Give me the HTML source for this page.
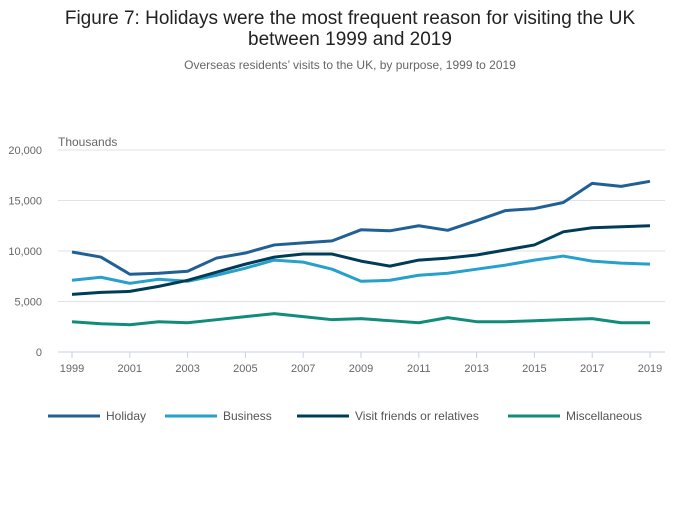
<!DOCTYPE html>
<html><head><meta charset="utf-8"><style>
body{margin:0;background:#fff;font-family:"Liberation Sans",sans-serif;}
</style></head><body>
<svg id="chart" width="700" height="502" xmlns="http://www.w3.org/2000/svg">
<text x="350" y="24" text-anchor="middle" font-size="19" fill="#222">Figure 7: Holidays were the most frequent reason for visiting the UK</text>
<text x="350" y="45" text-anchor="middle" font-size="19" fill="#222">between 1999 and 2019</text>
<text x="350" y="69" text-anchor="middle" font-size="12" fill="#666">Overseas residents’ visits to the UK, by purpose, 1999 to 2019</text>
<text x="58" y="146" font-size="12" fill="#666">Thousands</text>
<g id="grid"></g><g id="lines"></g><g id="legend"></g>
</svg>
<script>
const years=[1999,2000,2001,2002,2003,2004,2005,2006,2007,2008,2009,2010,2011,2012,2013,2014,2015,2016,2017,2018,2019];
const holiday=[9900,9400,7700,7800,8000,9300,9800,10600,10800,11000,12100,12000,12500,12050,13000,14000,14200,14800,16700,16400,16900];
const business=[7100,7400,6800,7200,7000,7600,8300,9100,8900,8200,7000,7100,7600,7800,8200,8600,9100,9500,9000,8800,8700];
const vfr=[5700,5900,6000,6500,7100,7900,8700,9400,9700,9700,9000,8500,9100,9300,9600,10100,10600,11900,12300,12400,12500];
const misc=[3000,2800,2700,3000,2900,3200,3500,3800,3500,3200,3300,3100,2900,3400,3000,3000,3100,3200,3300,2900,2900];
const yTicks=[0,5000,10000,15000,20000];
const yTickLabels=["0","5,000","10,000","15,000","20,000"];
const xTicks=[1999,2001,2003,2005,2007,2009,2011,2013,2015,2017,2019];
const seriesNames=["Holiday","Business","Visit friends or relatives","Miscellaneous"];
const ns="http://www.w3.org/2000/svg";
const x=v=>72+(v-1999)*(650-72)/20;
const y=v=>352-v*(352-150)/20000;
function mk(t,a,p){const e=document.createElementNS(ns,t);for(const k in a)e.setAttribute(k,a[k]);p.appendChild(e);return e;}
const grid=document.getElementById('grid');
yTicks.forEach((t,i)=>{
 const l=mk('line',{x1:58,x2:665,y1:y(t),y2:y(t),stroke:t===0?'#c5d2e6':'#e2e2e2','stroke-width':1},grid);
 
 
 const tx=mk('text',{x:42,y:y(t)+4,'text-anchor':'end','font-size':11,fill:'#666'},grid);
 tx.textContent=yTickLabels[i];
 
 
});
xTicks.forEach(t=>{
 const l=mk('line',{x1:x(t),x2:x(t),y1:352,y2:358,stroke:'#c5d2e6'},grid);
 
 
 const tx=mk('text',{x:x(t),y:372,'text-anchor':'middle','font-size':11,fill:'#666'},grid);
 tx.textContent=t;
 
 
});
const data=[holiday,business,vfr,misc];
const colors=['#206095','#27a0cc','#003c57','#118c7b'];
const ids=['holiday-line','business-line','vfr-line','misc-line'];
const lines=document.getElementById('lines');
data.forEach((s,i)=>{
 const p=mk('path',{d:s.map((v,j)=>(j?'L':'M')+x(years[j])+','+y(v)).join(''),fill:'none',stroke:colors[i],'stroke-width':3,'stroke-linejoin':'round'},lines);
 
 
});
const lg=document.getElementById('legend');
const lx=[48,165,297,508];
seriesNames.forEach((n,i)=>{
 const g=mk('g',{},lg);
 
 
 mk('line',{x1:lx[i],x2:lx[i]+52,y1:416,y2:416,stroke:colors[i],'stroke-width':3},g);
 const t=mk('text',{x:lx[i]+58,y:420,'font-size':12,fill:'#555'},g);
 t.textContent=n;
});
</script>
</body></html>
